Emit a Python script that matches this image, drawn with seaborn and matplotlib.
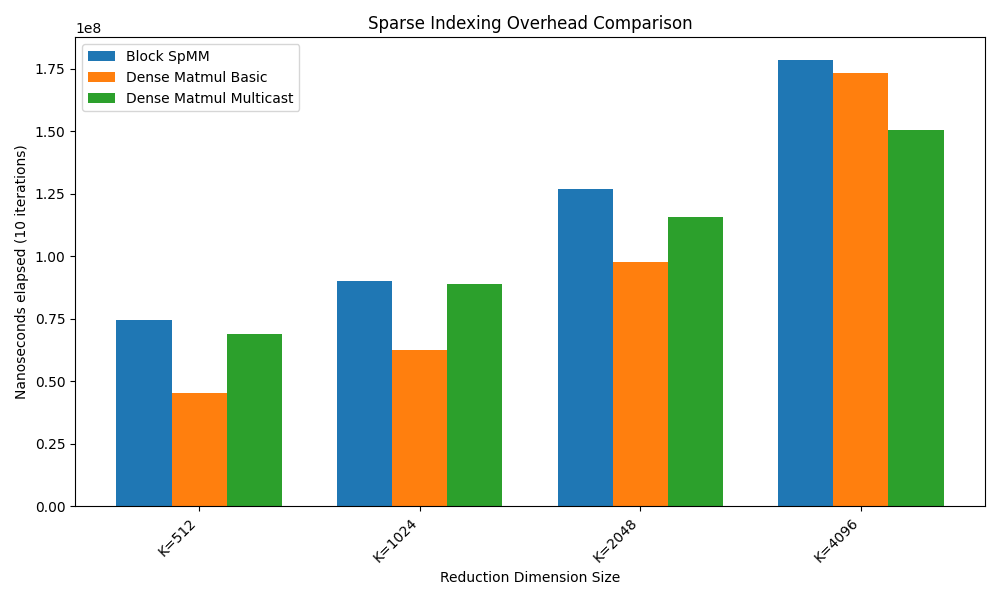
import matplotlib
matplotlib.use("Agg")
import matplotlib.pyplot as plt
import seaborn as sns
import pandas as pd

categories = ["K=512", "K=1024", "K=2048", "K=4096"]
block_spmm = [0.747e8, 0.899e8, 1.270e8, 1.786e8]
dense_basic = [0.455e8, 0.627e8, 0.975e8, 1.734e8]
dense_multicast = [0.691e8, 0.887e8, 1.155e8, 1.506e8]
series = {"Block SpMM": block_spmm, "Dense Matmul Basic": dense_basic,
          "Dense Matmul Multicast": dense_multicast}

rows = []
for name, vals in series.items():
    for c, v in zip(categories, vals):
        rows.append({"cat": c, "val": v, "series": name})
df = pd.DataFrame(rows)

fig, ax = plt.subplots(figsize=(10, 6), dpi=100)
sns.barplot(data=df, x="cat", y="val", hue="series", order=categories,
            palette=["#1f77b4", "#ff7f0e", "#2ca02c"], saturation=1,
            width=0.75, errorbar=None, ax=ax)
ax.set_xlim(-0.5625, 3.5625)
ax.set_title("Sparse Indexing Overhead Comparison")
ax.set_xlabel("Reduction Dimension Size")
ax.set_ylabel("Nanoseconds elapsed (10 iterations)")
plt.setp(ax.get_xticklabels(), rotation=45, ha="right")
ax.legend(title=None, loc="upper left")
fig.tight_layout()
fig.savefig("out.png")
